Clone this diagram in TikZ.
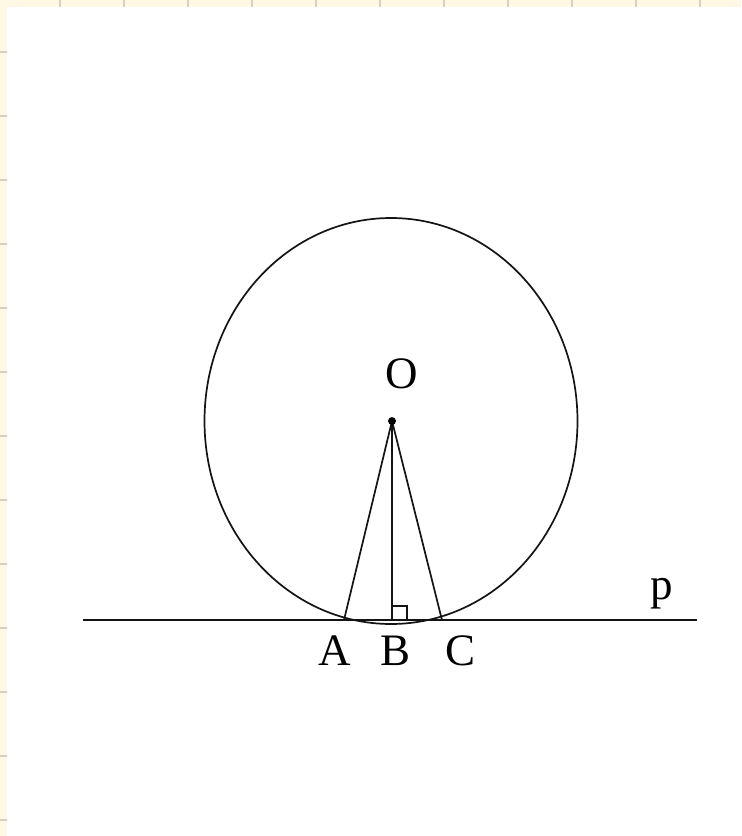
\documentclass[tikz,border=0pt]{standalone}
\usepackage{fontspec}
\setmainfont{Liberation Serif}
\usepackage{tikz}
\usetikzlibrary{calc}
\definecolor{paperbg}{RGB}{255, 248, 228}
\definecolor{tickclr}{RGB}{215, 208, 195}
\definecolor{geomgray}{RGB}{20, 20, 20}
\tikzset{
  % Asosiy chiziqlar
  geomline/.style = {line width=0.85pt, draw=geomgray},
  % Nuqta
  dotpt/.style    = {circle, fill=black, inner sep=1.4pt},
  % Etiketlar
  lab/.style      = {font=\fontsize{22.5}{26}\selectfont, inner sep=0pt},
  % Chizg'ich belgilari
  rulertick/.style= {draw=tickclr, line width=0.6pt},
}
\begin{document}
\begin{tikzpicture}[x=0.5pt, y=-0.5pt]
  % Fon va chegara
  \useasboundingbox (0,0) rectangle (741,836);
  \fill[white] (0,0) rectangle (741,836);
  \fill[paperbg] (0,0) rectangle (741,7);
  \fill[paperbg] (0,0) rectangle (7,836);
  \foreach \tx in {60,124,...,741} \draw[rulertick] (\tx,0) -- (\tx,7);
  \foreach \ty in {52,116,...,836} \draw[rulertick] (0,\ty) -- (7,\ty);
  % Nuqtalar
  \coordinate (O) at (392,421);
  \coordinate (A) at (344,620);
  \coordinate (B) at (392,620);
  \coordinate (C) at (442,620);
  \coordinate (pL) at (83,620);
  \coordinate (pR) at (697,620);
  % Aylana
  \draw[geomline] (391,421) ellipse [x radius=186.5, y radius=203];
  % To'g'ri chiziq p
  \draw[geomline] (pL) -- (pR);
  % Kesmalar
  \draw[geomline] (O) -- (A);
  \draw[geomline] (O) -- (B);
  \draw[geomline] (O) -- (C);
  % To'g'ri burchak belgisi
  \draw[geomline] (392,606) -- (407,606) -- (407,620);
  % Etiketlar
  \node[lab] (labO) at (402,374) {O};
  \node[lab] (labA) at (335,651) {A};
  \node[lab] (labB) at (396,651) {B};
  \node[lab] (labC) at (461,651) {C};
  \node[lab] (labp) at (662,594) {p};
  \node[dotpt] (dotO) at (O) {};
\end{tikzpicture}
\end{document}
